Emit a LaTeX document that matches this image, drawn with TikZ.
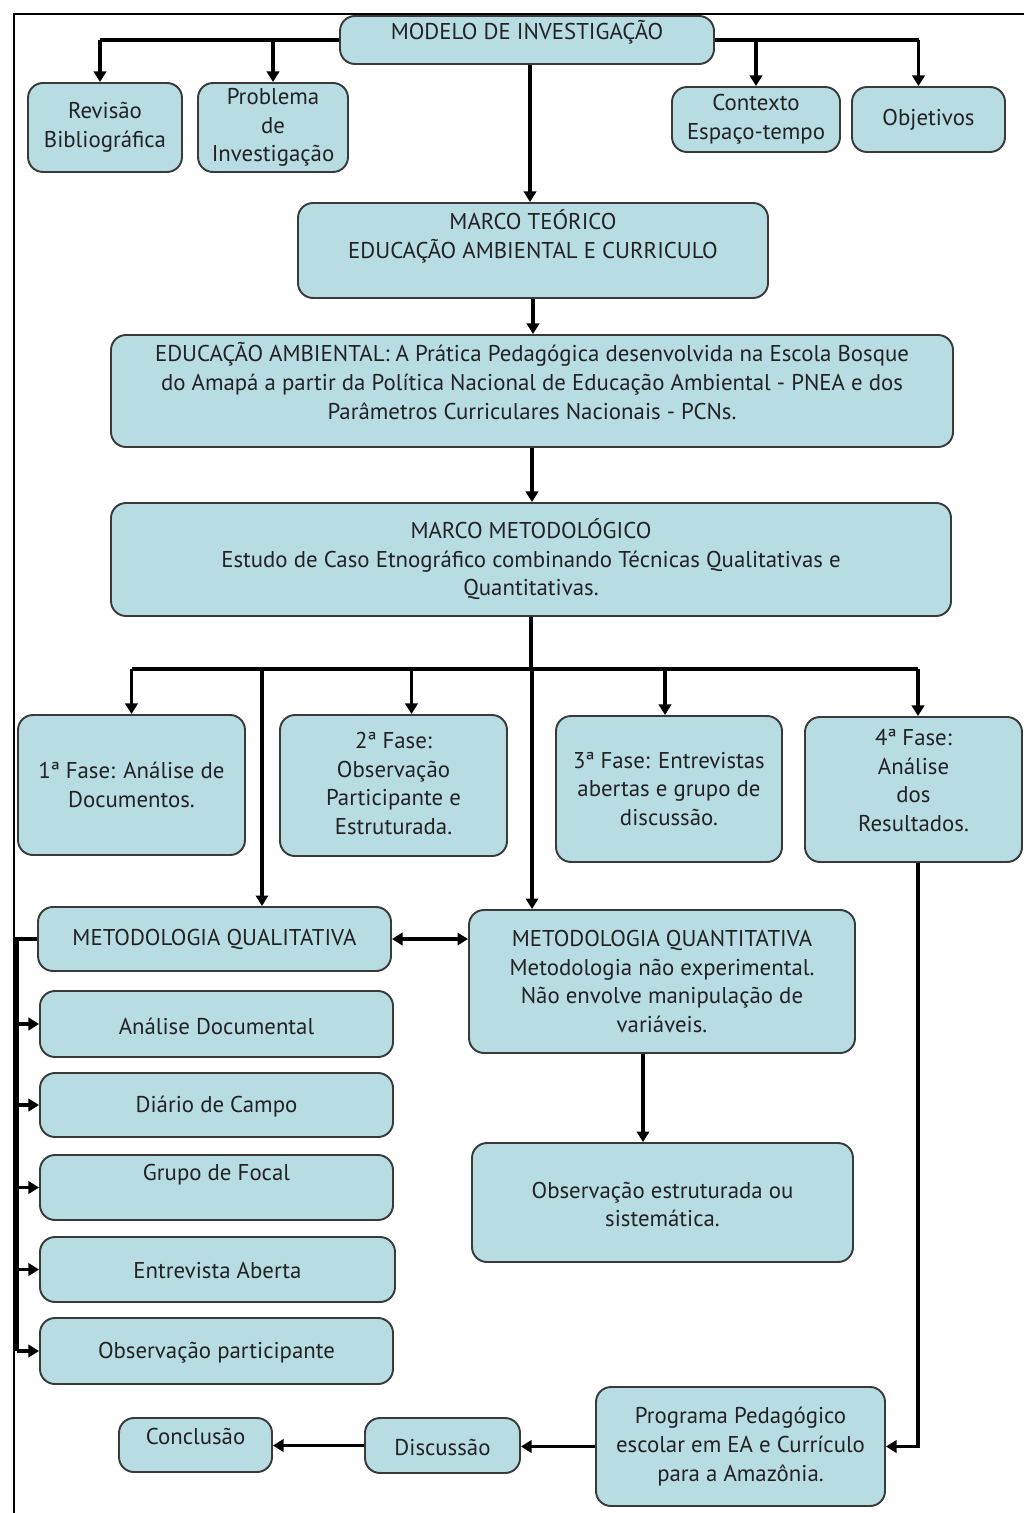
\documentclass[tikz,border=0pt]{standalone}
\usepackage{fontspec}
\setmainfont{PT Sans}
\usetikzlibrary{arrows.meta,calc}
\definecolor{boxfill}{HTML}{B7DDE3}
\definecolor{boxline}{HTML}{3A3A3A}
\definecolor{txtc}{HTML}{222222}
\newcommand\bbox[7]{%
  \node[bx, minimum width={(#4-#2)*0.02cm}, minimum height={(#5-#3)*0.02cm}] (#1) at ({(#2+#4)/2},{(#3+#5)/2}) {};
  \node[txt] (#1-t) at ({(#2+#4)/2},{(#3+#5)/2+#6}) {#7};}
\begin{document}
\begin{tikzpicture}[x=0.02cm,y=-0.02cm,
  bx/.style={draw=boxline, line width=1.1pt, fill=boxfill, rounded corners=0.3cm, inner sep=0pt},
  txt/.style={align=center, text=txtc, font=\fontsize{13}{16.3}\selectfont, inner sep=0pt},
  tip/.tip={Triangle[length=6pt,width=7pt]},
  conn/.style={line width=2pt, -tip},
  plain/.style={line width=2pt},
  bar/.style={line width=2.8pt}]
\useasboundingbox (0,0) rectangle (1024,1513);
\draw[line width=1.2pt] (1024,14) -- (14,14) -- (14,1513);

\bbox{modelo}{340}{16}{714}{64}{-8}{MODELO DE INVESTIGAÇÃO}
\bbox{rev}{28}{83}{182}{172}{0}{Revisão\\Bibliográfica}
\bbox{prob}{198}{83}{348}{172}{0}{Problema\\de\\Investigação}
\bbox{cont}{672}{87}{840}{152}{0}{Contexto\\Espaço-tempo}
\bbox{obj}{852}{87}{1005}{152}{0}{Objetivos}
\bbox{teor}{298}{203}{768}{298}{-14}{MARCO TEÓRICO\\EDUCAÇÃO AMBIENTAL E CURRICULO}
\bbox{edu}{111}{335}{953}{447}{-10}{EDUCAÇÃO AMBIENTAL: A Prática Pedagógica desenvolvida na Escola Bosque\\do Amapá a partir da Política Nacional de Educação Ambiental - PNEA e dos\\Parâmetros Curriculares Nacionais - PCNs.}
\bbox{met}{111}{503}{951}{616}{0}{MARCO METODOLÓGICO\\Estudo de Caso Etnográfico combinando Técnicas Qualitativas e\\Quantitativas.}
\bbox{f1}{18}{715}{245}{855}{0}{1ª Fase: Análise de\\Documentos.}
\bbox{f2}{280}{715}{507}{856}{-2}{2ª Fase:\\Observação\\Participante e\\Estruturada.}
\bbox{f3}{556}{716}{782}{862}{0}{3ª Fase: Entrevistas\\abertas e grupo de\\discussão.}
\bbox{f4}{805}{717}{1022}{862}{-9}{4ª Fase:\\Análise\\dos\\Resultados.}
\bbox{qual}{38}{907}{391}{971}{0}{METODOLOGIA QUALITATIVA}
\bbox{quant}{469}{910}{855}{1053}{0}{METODOLOGIA QUANTITATIVA\\Metodologia não experimental.\\Não envolve manipulação de\\variáveis.}
\bbox{obse}{472}{1143}{853}{1262}{2}{Observação estruturada ou\\sistemática.}
\bbox{ana}{40}{991}{393}{1057}{2}{Análise Documental}
\bbox{dia}{40}{1073}{393}{1137}{2}{Diário de Campo}
\bbox{gru}{40}{1155}{393}{1220}{-13}{Grupo de Focal}
\bbox{ent}{40}{1237}{395}{1302}{1}{Entrevista Aberta}
\bbox{obp}{40}{1318}{393}{1384}{2}{Observação participante}
\bbox{prog}{596}{1387}{885}{1506}{0}{Programa Pedagógico\\escolar em EA e Currículo\\para a Amazônia.}
\bbox{disc}{365}{1418}{520}{1473}{2}{Discussão}
\bbox{conc}{119}{1418}{272}{1472}{-9}{Conclusão}

% top level
\coordinate (objtop) at ([xshift=-0.2cm]obj.north);
\coordinate (revtop) at ([xshift=-0.1cm]rev.north);
\draw[bar] (modelo.west) -- (modelo.west -| revtop);
\draw[conn] (modelo.west -| revtop) -- (revtop);
\draw[conn] (modelo.west -| prob.north) -- (prob.north);
\draw[bar] (modelo.east) -- (modelo.east -| objtop);
\draw[conn] (modelo.east -| cont.north) -- (cont.north);
\draw[conn] (modelo.east -| objtop) -- (objtop);
\draw[conn] ([xshift=0.06cm]modelo.south) -- ([xshift=0.06cm]modelo.south |- teor.north);
\draw[conn] (teor.south) -- (teor.south |- edu.north);
\draw[conn] (edu.south) -- (edu.south |- met.north);

% phases
\coordinate (hub) at ($(met.south)+(0,52)$);
\coordinate (f2top) at ([xshift=0.36cm]f2.north);
\coordinate (f3top) at ([xshift=-0.08cm]f3.north);
\coordinate (f4top) at ([xshift=0.09cm]f4.north);
\coordinate (qtop) at ([xshift=0.95cm]qual.north);
\coordinate (ntop) at ([xshift=-2.6cm]quant.north);
\draw[plain] (met.south) -- (hub);
\draw[bar] (hub -| f1.north) -- (hub -| f4top);
\draw[conn] (hub -| f1.north) -- (f1.north);
\draw[conn] (hub -| f2top) -- (f2top);
\draw[conn] (hub -| f3top) -- (f3top);
\draw[conn] (hub -| f4top) -- (f4top);
\draw[conn] (hub -| qtop) -- (qtop);
\draw[conn] (hub -| ntop) -- (ntop);

% methodologies
\draw[conn, tip-tip] (qual.east) -- (qual.east -| quant.west);
\coordinate (nbot) at ([xshift=-0.38cm]quant.south);
\draw[conn] (nbot) -- (nbot |- obse.north);
\coordinate (bus) at ($(qual.west)+(-20,0)$);
\draw[plain] (qual.west) -- (bus) -- (bus |- obp.west);
\draw[conn] (bus |- ana.west) -- (ana.west);
\draw[conn] (bus |- dia.west) -- (dia.west);
\draw[conn] (bus |- gru.west) -- (gru.west);
\draw[conn] (bus |- ent.west) -- (ent.west);
\draw[conn] (bus |- obp.west) -- (obp.west);

% results
\coordinate (f4bot) at ([xshift=0.09cm]f4.south);
\draw[conn] (f4bot) |- (prog.east);
\draw[conn] (prog.west) -- (prog.west -| disc.east);
\draw[conn] (disc.west) -- (disc.west -| conc.east);
\end{tikzpicture}
\end{document}
